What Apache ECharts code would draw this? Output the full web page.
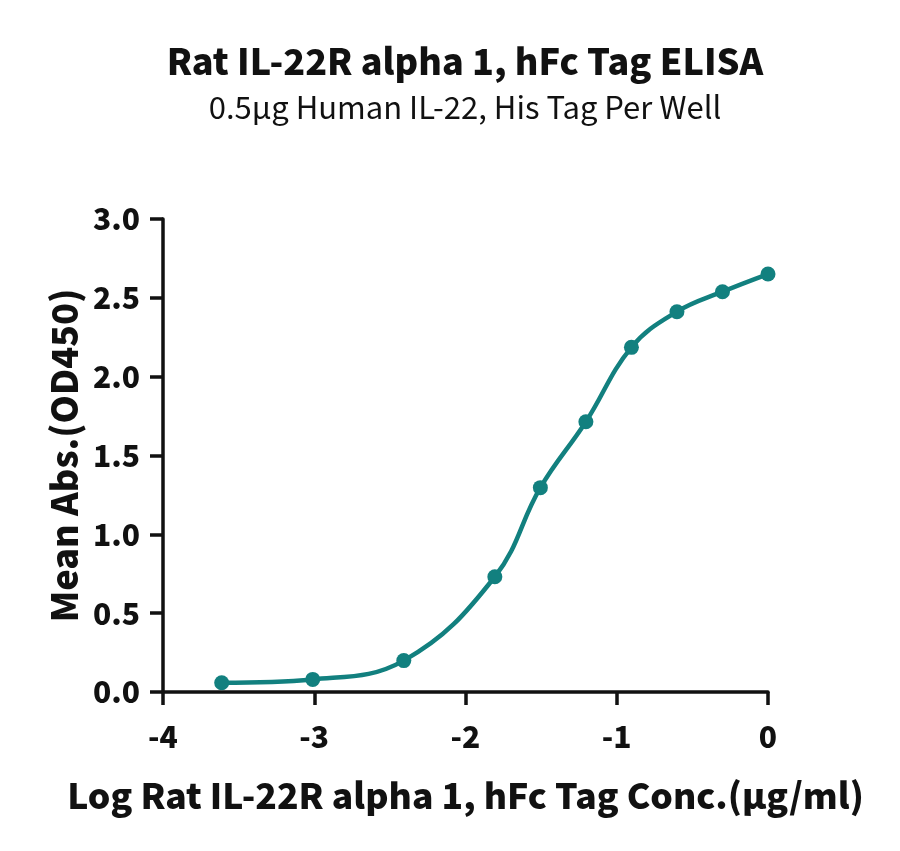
<!DOCTYPE html>
<html>
<head>
<meta charset="utf-8">
<script src="https://cdn.jsdelivr.net/npm/echarts@6/dist/echarts.min.js"></script>
<style>
html, body { margin: 0; padding: 0; background: #fff; }
#chart { width: 900px; height: 851px; }
</style>
</head>
<body>
<div id="chart"></div>
<script>
var myChart = echarts.init(document.getElementById('chart'));

var titleText = 'Rat IL-22R alpha 1, hFc Tag ELISA';
var subText = '0.5μg Human IL-22, His Tag Per Well';
var xName = 'Log Rat IL-22R alpha 1, hFc Tag Conc.(μg/ml)';
var yName = 'Mean Abs.(OD450)';

// log10 of concentration (μg/ml)
var logConc = [-3.612, -3.010, -2.408, -1.806, -1.505, -1.204, -0.903, -0.602, -0.301, 0];
// mean OD450
var meanAbs = [0.059, 0.080, 0.199, 0.731, 1.296, 1.714, 2.186, 2.412, 2.539, 2.651];

var lineColor = '#12807f';
var fontFam = '"Noto Sans CJK SC", "Noto Sans", sans-serif';
var heavy = 900;

var points = [];
for (var i = 0; i < logConc.length; i++) {
    points.push([logConc[i], meanAbs[i]]);
}

myChart.setOption({
    backgroundColor: '#fff',
    animation: false,
    // titles are centred over the plot area, not the page
    graphic: [
        {
            type: 'text',
            x: 465,
            y: 43,
            style: {
                text: titleText,
                align: 'center',
                verticalAlign: 'top',
                fontFamily: fontFam,
                fontWeight: heavy,
                fontSize: 36,
                fill: '#111'
            }
        },
        {
            type: 'text',
            x: 465,
            y: 92,
            style: {
                text: subText,
                align: 'center',
                verticalAlign: 'top',
                fontFamily: fontFam,
                fontWeight: 'normal',
                fontSize: 31,
                fill: '#111'
            }
        }
    ],
    grid: {
        left: 163,
        right: 132,
        top: 219,
        bottom: 159,
        containLabel: false
    },
    xAxis: {
        type: 'value',
        min: -4,
        max: 0,
        interval: 1,
        name: xName,
        nameLocation: 'middle',
        nameGap: 86,
        nameTextStyle: {fontFamily: fontFam, fontWeight: heavy, fontSize: 35.5, color: '#111'},
        axisLine: {onZero: false, lineStyle: {color: '#111', width: 3.5}},
        axisTick: {show: true, length: 13, lineStyle: {color: '#111', width: 3.5}},
        axisLabel: {
            margin: 30,
            fontFamily: fontFam, fontWeight: heavy, fontSize: 30, color: '#111'
        },
        splitLine: {show: false}
    },
    yAxis: {
        type: 'value',
        min: 0,
        max: 3,
        interval: 0.5,
        name: yName,
        nameLocation: 'middle',
        nameGap: 80,
        nameTextStyle: {fontFamily: fontFam, fontWeight: heavy, fontSize: 36, color: '#111'},
        axisLine: {show: true, onZero: false, lineStyle: {color: '#111', width: 3.5}},
        axisTick: {show: true, length: 13, lineStyle: {color: '#111', width: 3.5}},
        axisLabel: {
            margin: 23,
            formatter: function (v) { return v.toFixed(1); },
            fontFamily: fontFam, fontWeight: heavy, fontSize: 30, color: '#111'
        },
        splitLine: {show: false}
    },
    series: [
        {
            type: 'line',
            data: points,
            smooth: 0.4,
            symbol: 'circle',
            symbolSize: 15,
            lineStyle: {color: lineColor, width: 4.5},
            itemStyle: {color: lineColor}
        }
    ]
});
</script>
</body>
</html>
